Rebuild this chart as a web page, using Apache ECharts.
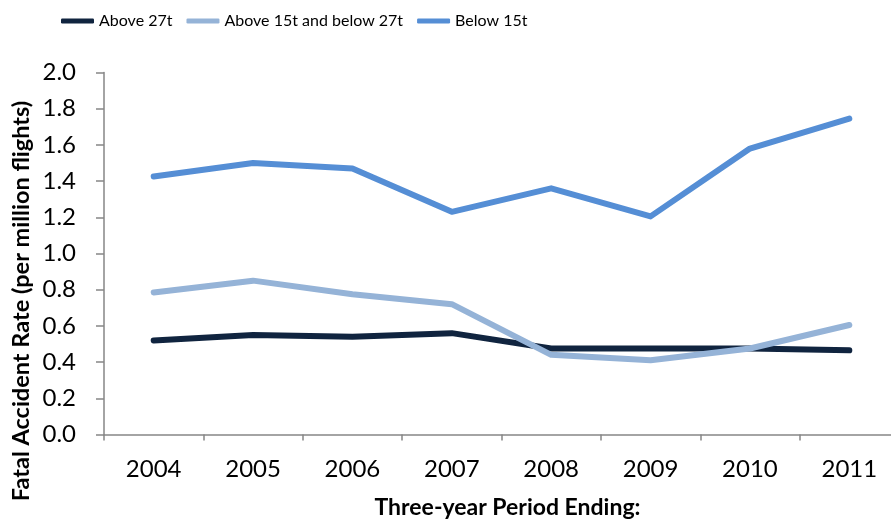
<!DOCTYPE html>
<html>
 <head>
  <title>Fatal Accident Rate</title>
  <script src="https://cdn.jsdelivr.net/npm/echarts@6/dist/echarts.min.js"></script>
  <style>
    html, body, #container {
    width: 100%;
    height: 100%;
    margin: 0;
    padding: 0;
    background: #fff;
    }
  </style>
 </head>
  <body>
    <div id="container"></div>
    <script>
// data
var years = ['2004', '2005', '2006', '2007', '2008', '2009', '2010', '2011'];
var above27 = [0.52, 0.55, 0.54, 0.56, 0.475, 0.475, 0.475, 0.465];
var between15and27 = [0.785, 0.85, 0.775, 0.72, 0.44, 0.41, 0.475, 0.605];
var below15 = [1.425, 1.50, 1.47, 1.23, 1.36, 1.205, 1.58, 1.745];
var yTicks = [0, 0.2, 0.4, 0.6, 0.8, 1.0, 1.2, 1.4, 1.6, 1.8, 2.0];

var chartDom = document.getElementById('container');
var myChart = echarts.init(chartDom);
var option;

function lineSeries(name, data, color) {
  return {
    name: name,
    type: 'line',
    data: data,
    showSymbol: false,
    symbol: 'none',
    lineStyle: { width: 6, color: color, cap: 'round', join: 'round' },
    itemStyle: { color: color }
  };
}

option = {
  animation: false,
  legend: {
    top: 4,
    left: 56,
    itemWidth: 33,
    itemHeight: 5,
    itemGap: 14,
    icon: 'roundRect',
    textStyle: { fontFamily: 'Lato', fontSize: 16, color: '#000' },
    data: ['Above 27t', 'Above 15t and below 27t', 'Below 15t']
  },
  grid: { left: 104, top: 72.5, width: 795, height: 362, outerBoundsMode: 'none', containLabel: false },
  xAxis: {
    type: 'category',
    data: years,
    boundaryGap: true,
    name: 'Three-year Period Ending:',
    nameLocation: 'middle',
    nameGap: 55,
    nameMoveOverlap: false,
    nameTextStyle: { fontFamily: 'Lato', fontWeight: 'bold', fontSize: 23, color: '#000', padding: [0, 0, 0, 12] },
    axisLine: { lineStyle: { color: '#868686', width: 1.5 } },
    axisTick: { show: true, length: 6, alignWithLabel: false, lineStyle: { color: '#868686', width: 1.5 } },
    axisLabel: { margin: 17, fontFamily: 'Lato', fontSize: 24, color: '#000' },
    splitLine: { show: false }
  },
  yAxis: {
    type: 'value',
    min: yTicks[0],
    max: yTicks[yTicks.length - 1],
    interval: 0.2,
    name: 'Fatal Accident Rate (per million flights)',
    nameLocation: 'middle',
    nameGap: 65,
    nameMoveOverlap: false,
    nameTextStyle: { fontFamily: 'Lato', fontWeight: 'bold', fontSize: 23.5, color: '#000', padding: [0, 95, 0, 0] },
    axisLine: { show: true, lineStyle: { color: '#868686', width: 1.5 } },
    axisTick: { show: true, length: 8, lineStyle: { color: '#868686', width: 1.5 } },
    axisLabel: {
      margin: 28, fontFamily: 'Lato', fontSize: 24, color: '#000',
      formatter: function (v) { return v.toFixed(1); }
    },
    splitLine: { show: false }
  },
  series: [
    lineSeries('Above 27t', above27, '#10243F'),
    lineSeries('Above 15t and below 27t', between15and27, '#95B3D7'),
    lineSeries('Below 15t', below15, '#558ED5')
  ]
};

option && myChart.setOption(option);
    </script>
  </body>
</html>
